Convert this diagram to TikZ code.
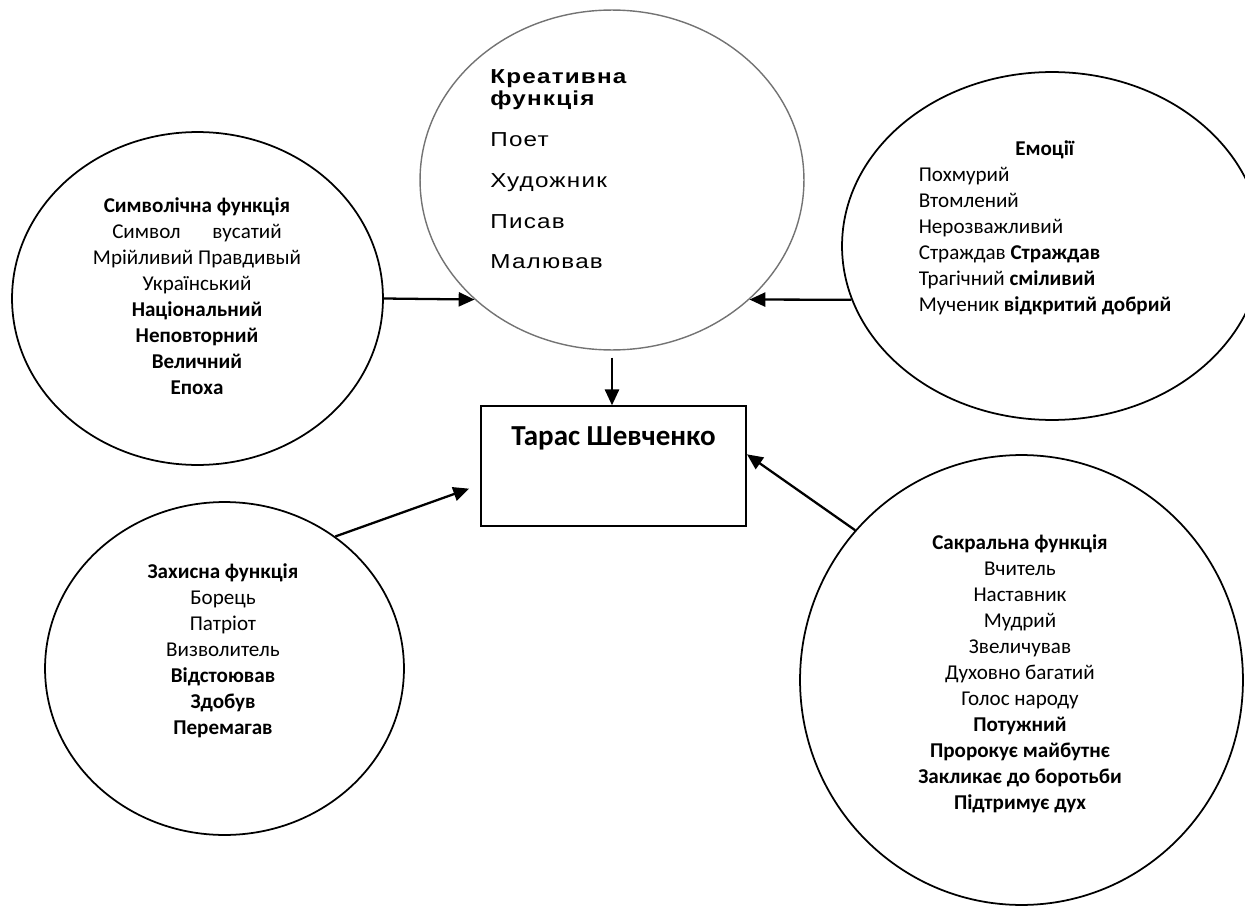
\documentclass[tikz,border=0pt]{standalone}
\usepackage{fontspec}
\setmainfont{Carlito}
\newfontfamily\creafont[FakeStretch=1.2,LetterSpace=6]{Liberation Sans}
\usetikzlibrary{positioning}
\usetikzlibrary{shapes.geometric}
\usetikzlibrary{arrows.meta}

\begin{document}
\begin{tikzpicture}[%
    x=0.02cm, y=-0.02cm,
    >={Triangle[length=9pt,width=8pt]},
fnode/.style={ellipse, draw=black, line width=1pt, inner sep=0pt},
cnode/.style={ellipse, draw=black!55, line width=0.8pt, inner sep=0pt},
squarednode/.style={rectangle, draw=black, line width=1.1pt, inner sep=0pt, minimum width=5.3cm, font=\fontsize{16.5}{19}\selectfont, text height=22.1pt, text depth=45.9pt},
ftext/.style={align=center, inner sep=0pt, font=\fontsize{12}{14.8}\selectfont},
arrow/.style={->, line width=1.3pt}
]
\useasboundingbox (0,0) rectangle (1245,906);
\clip (0,0) rectangle (1245,906);

% circles
\node[cnode, minimum width=7.68cm, minimum height=6.8cm] (creative) at (612,180) {};
\node[fnode, minimum width=7.42cm, minimum height=6.66cm] (symbolic) at (197.5,298.5) {};
\node[fnode, minimum width=8.4cm, minimum height=6.96cm] (emotions) at (1052,246) {};
\node[fnode, minimum width=7.18cm, minimum height=6.66cm] (protective) at (224.5,668.5) {};
\node[fnode, minimum width=8.86cm, minimum height=9cm] (sacral) at (1021.5,680) {};

% centre
\node[squarednode] (shevchenko) at (613.5,466) {\textbf{Тарас Шевченко}};

% texts
\node[inner sep=0pt, anchor=north west, align=left, font=\creafont\fontsize{11.5}{12.8}\selectfont] (creativetext) at (490,69)
    {\textbf{Креативна}\\\textbf{функція}\\[10.4pt]Поет\\[10.4pt]Художник\\[10.4pt]Писав\\[10.4pt]Малював};

\node[ftext] (symbolictext) at (197,296)
    {\textbf{Символічна функція}\\Символ\hspace{18pt}вусатий\\Мрійливий Правдивый\\Український\\\textbf{Національний}\\\textbf{Неповторний}\\\textbf{Величний}\\\textbf{Епоха}};

\node[ftext] (emotionstext) at (1045,228)
    {\begin{tabular}{@{}l@{}}\multicolumn{1}{@{}c@{}}{\textbf{Емоції}}\\Похмурий\\Втомлений\\Нерозважливий\\Страждав \textbf{Страждав}\\Трагічний \textbf{сміливий}\\Мученик \textbf{відкритий добрий}\end{tabular}};

\node[ftext] (protectivetext) at (223,651)
    {\textbf{Захисна функція}\\Борець\\Патріот\\Визволитель\\\textbf{Відстоював}\\\textbf{Здобув}\\\textbf{Перемагав}};

\node[ftext] (sacraltext) at (1020,674)
    {\textbf{Сакральна функція}\\Вчитель\\Наставник\\Мудрий\\Звеличував\\Духовно багатий\\Голос народу\\\textbf{Потужний}\\\textbf{Пророкує майбутнє}\\\textbf{Закликає до боротьби}\\\textbf{Підтримує дух}};

% arrows
\draw[arrow] (symbolic.east) -- (creative.221);
\draw[arrow] (emotions.195) -- (creative.319);
\draw[arrow, shorten <=4pt] (creative.south) -- (creative.south |- shevchenko.north);
\draw[arrow, shorten >=6.6pt] (protective.50) -- (shevchenko.188);
\draw[arrow] (sacral.138) -- (shevchenko.5);

\end{tikzpicture}
\end{document}
